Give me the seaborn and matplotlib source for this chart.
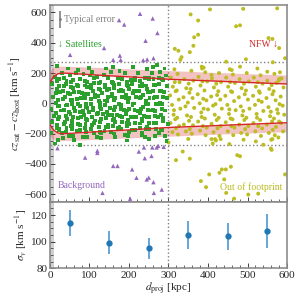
import matplotlib
matplotlib.use('Agg')
import matplotlib.pyplot as plt
from matplotlib.ticker import MultipleLocator
import numpy as np
import pandas as pd
import seaborn as sns

# satellites (green squares), d_proj < 300 kpc
sat_x = [13, 5, 17, 8, 16, 3, 11, 6, 18, 4,
         31, 23, 35, 26, 34, 21, 29, 24, 36, 22, 30,
         50, 42, 54, 45, 53, 40, 48, 43, 55, 41, 49,
         66, 58, 70, 61, 69, 56, 64, 59, 71, 57,
         85, 77, 89, 80, 88, 75, 83, 78, 90, 76, 84,
         101, 93, 105, 96, 104, 91, 99, 94, 106, 92,
         120, 112, 124, 115, 123, 110, 118, 113, 125, 111, 119,
         136, 128, 140, 131, 139, 126, 134, 129, 141, 127,
         155, 147, 159, 150, 158, 145, 153, 148, 160, 146, 154,
         171, 163, 175, 166, 174, 161, 169, 164, 176, 162,
         190, 182, 194, 185, 193, 180, 188, 183, 195, 181, 189,
         206, 198, 210, 201, 209, 196, 204, 199, 211, 197,
         224, 216, 228, 219, 227, 214, 222, 217, 229, 215,
         241, 233, 245, 236, 244, 231, 239, 234, 246, 232, 240,
         259, 251, 263, 254, 262, 249, 257, 252, 264, 250,
         275, 267, 279, 270, 278, 265, 273, 268, 280, 266,
         293, 285, 297, 288, 296, 283, 291, 286, 298, 284, 292,
         17, 22, 15, 20, 24, 16, 21, 18, 23,
         36, 41, 34, 39, 43, 35, 40, 37, 42, 33,
         53, 58, 51, 56, 60, 52, 57, 54, 59,
         71, 76, 69, 74, 78, 70, 75, 72, 77, 68,
         88, 93, 86, 91, 95, 87, 92, 89, 94,
         106, 111, 104, 109, 113, 105, 110, 107, 112, 103,
         123, 128, 121, 126, 130, 122, 127, 124, 129,
         141, 146, 139, 144, 148, 140, 145, 142, 147, 138,
         158, 163, 156, 161, 165, 157, 162, 159, 164,
         176, 181, 174, 179, 183, 175, 180, 177, 182, 173,
         194, 199, 192, 197, 201, 193, 198, 195, 200,
         210, 215, 208, 213, 217, 209, 214, 211, 216, 207,
         228, 233, 226, 231, 235, 227, 232, 229, 234,
         245, 250, 243, 248, 252, 244, 249, 246, 251, 242,
         262, 267, 260, 265, 269, 261, 266, 263, 268,
         279, 284, 277, 282, 286, 278, 283, 280, 285, 276,
         17, 45, 100, 160, 260, 270, 290, 20, 60, 130, 195, 250, 295, 13, 76]
sat_y = [172, 128, 96, 41, 5, -38, -84, -121, -163, -195,
         200, 159, 115, 74, 30, -15, -47, -90, -136, -170, -198,
         185, 150, 108, 70, 23, -14, -59, -103, -141, -186, -215,
         200, 157, 117, 75, 30, -4, -53, -92, -139, -172,
         195, 159, 118, 70, 34, -15, -51, -92, -134, -175, -220,
         184, 141, 100, 59, 28, -23, -60, -109, -142, -188,
         175, 136, 95, 56, 13, -29, -71, -113, -155, -195, -223,
         189, 144, 107, 68, 19, -21, -73, -104, -157, -189,
         205, 172, 135, 97, 51, 16, -29, -75, -111, -158, -189,
         168, 124, 83, 37, -2, -46, -78, -126, -158, -199,
         198, 161, 118, 80, 36, -12, -46, -89, -131, -172, -206,
         156, 113, 71, 36, -10, -47, -91, -137, -176, -217,
         198, 157, 116, 79, 35, -1, -48, -91, -133, -175,
         166, 130, 93, 55, 13, -40, -84, -116, -156, -194, -224,
         200, 159, 120, 77, 37, -4, -47, -91, -133, -167,
         168, 121, 84, 39, -2, -49, -93, -132, -173, -213,
         184, 152, 113, 74, 35, -6, -47, -94, -136, -175, -213,
         150, 112, 70, 25, -15, -62, -103, -140, -178,
         168, 125, 84, 44, -8, -45, -82, -126, -165, -230,
         140, 100, 60, 22, -32, -70, -115, -150, -218,
         222, 160, 120, 78, 33, -2, -60, -95, -140, -180,
         145, 105, 62, -2, -28, -75, -105, -160, -225,
         210, 165, 122, 82, 45, -5, -45, -90, -130, -170,
         135, 90, 48, 5, -40, -65, -120, -155, -195,
         230, 170, 120, 85, 40, -12, -55, -98, -140, -185,
         140, 100, 62, 20, -25, -75, -105, -150, -222,
         215, 168, 130, 88, 45, -5, -40, -85, -125, -165,
         140, 95, 55, 12, -40, -70, -110, -150, -190,
         240, 165, 125, 80, 40, -5, -45, -90, -130, -175,
         150, 115, 80, 40, -25, -65, -100, -165, -210,
         225, 165, 118, 78, 38, -5, -45, -90, -130, -170,
         160, 120, 82, 40, -5, -45, -85, -130, -170,
         210, 160, 125, 85, 45, 0, -35, -75, -115, -195,
         247, 230, 235, 240, 240, 255, 230, -240, -240, -230, -245, -235, -250, -265, -276]

# out of footprint (olive dots), d_proj > 300 kpc
oof_x = [306, 311, 304, 309, 313, 305, 310,
         323, 328, 321, 326, 330, 322, 327, 324,
         340, 345, 338, 343, 347, 339, 344,
         358, 363, 356, 361, 365, 357, 362, 359,
         376, 381, 374, 379, 383, 375, 380,
         393, 398, 391, 396, 400, 392, 397, 394,
         410, 415, 408, 413, 417, 409, 414,
         428, 433, 426, 431, 435, 427, 432, 429,
         446, 451, 444, 449, 453, 445, 450,
         463, 468, 461, 466, 470, 462, 467, 464,
         480, 485, 478, 483, 487, 479, 484,
         498, 503, 496, 501, 505, 497, 502, 499,
         516, 521, 514, 519, 523, 515, 520,
         533, 538, 531, 536, 540, 532, 537, 534,
         550, 555, 548, 553, 557, 549, 554,
         568, 573, 566, 571, 575, 567, 572, 569,
         586, 591, 584, 589, 593, 585, 590,
         316, 318, 314, 317, 319, 315,
         351, 353, 349, 352, 354, 350,
         386, 388, 384, 387, 389, 385,
         421, 423, 419, 422, 424, 420,
         456, 458, 454, 457, 459, 455,
         491, 493, 489, 492, 494, 490,
         526, 528, 524, 527, 529, 525,
         561, 563, 559, 562, 564, 560,
         579, 581, 577, 580, 582, 578,
         356, 405, 489, 575, 375, 471, 481, 365, 375, 363, 316, 325, 354,
         553, 563, 580, 333, 330, 384, 389, 446, 496, 564, 481, 460, 550,
         580, 595, 409,
         300, 319, 336, 354, 409, 418, 432, 412, 454, 474, 481, 403, 429,
         435, 445, 458, 382, 395, 441, 446, 466, 502, 527, 540, 559, 561,
         563, 521, 595]
oof_y = [170, 110, 52, -10, -75, -130, -190,
         195, 140, 85, 25, -35, -95, -150, -205,
         160, 100, 40, -20, -80, -140, -185,
         215, 150, 95, 35, -30, -90, -145, -200,
         175, 118, 60, 0, -60, -120, -180,
         205, 145, 85, 20, -40, -100, -160, -210,
         165, 105, 45, -15, -75, -135, -190,
         200, 140, 80, 25, -35, -95, -150, -215,
         170, 110, 50, -10, -70, -125, -185,
         190, 135, 75, 15, -45, -105, -160, -210,
         160, 100, 40, -20, -80, -140, -195,
         200, 145, 85, 25, -35, -95, -150, -205,
         170, 110, 50, -10, -70, -130, -185,
         185, 130, 70, 10, -50, -110, -165, -215,
         150, 95, 35, -25, -85, -140, -195,
         195, 135, 80, 20, -40, -100, -155, -210,
         165, 105, 45, -15, -75, -130, -185,
         140, 80, -45, -105, -165, 225,
         130, 70, 5, -115, -170, -235,
         145, 30, -90, -150, -35, 230,
         130, 55, -5, -110, -165, -245,
         140, 80, -40, -100, -150, 225,
         130, 60, -50, -110, -170, -240,
         140, 20, -95, -150, 80, 230,
         120, 60, -55, -120, -175, -240,
         150, -5, -65, -120, 205, -225,
         587, 620, 624, 627, 547, 509, 515, 436, 453, 380, 360, 347, 338,
         431, 425, 365, 305, 287, 242, 236, 275, 291, 271, 242, 220, 209,
         160, 298, 187,
         -258, -375, -318, -365, -236, -236, -236, -265, -269, -342, -349, -469, -458,
         -436, -436, -418, -513, -553, -502, -591, -629, -602, -596, -273, -298, -307,
         -236, -251, -469]

# background (purple triangles)
bkg_x = [175, 188, 228, 242, 137, 51, 160, 179, 236, 246, 260, 272, 262, 177,
         19, 89, 120, 120, 160, 171, 208, 219, 245, 250, 225, 240, 133, 203,
         257, 274, 288, 262, 283, 263, 238, 259, 270]
bkg_y = [549, 520, 591, 413, 365, 320, 287, 287, 285, 290, 560, 464, 298, 315,
         -296, -358, -313, -327, -413, -413, -436, -491, -502, -490, -318, -362, -591, -629,
         -347, -280, -287, -520, -569, -591, -291, -291, -291]

# NFW escape-velocity curve and its band
nfw_x = [0, 5, 10, 20, 30, 50, 100, 150, 200, 250, 300, 400, 500, 600]
nfw_v = [140, 160, 178, 195, 200, 198, 190, 182, 175, 167, 159, 149, 138, 128]
band_hi = [205, 232, 242, 246, 246, 244, 240, 234, 228, 222, 217, 206, 196, 187]

# velocity dispersion profile
bin_x = [50, 150, 250, 350, 450, 550]
sigma_v = [114, 99, 95, 105, 104, 108]
sigma_err = [9.7, 8.7, 8.0, 10.5, 10.1, 12.8]

sns.set_style('ticks')
plt.rcParams['font.family'] = ['Liberation Serif', 'DejaVu Serif']
plt.rcParams['mathtext.fontset'] = 'stix'
plt.rcParams['font.size'] = 8

green = '#2ca02c'
olive = '#bcbd22'
purple = '#9467bd'
red = '#d62728'
blue = '#1f77b4'

fig = plt.figure(figsize=(2.99, 3.04), dpi=100)
ax1 = fig.add_axes([0.167, 0.336, 0.793, 0.648])
ax2 = fig.add_axes([0.167, 0.118, 0.793, 0.218], sharex=ax1)

df_sat = pd.DataFrame({'x': sat_x, 'y': sat_y})
df_oof = pd.DataFrame({'x': oof_x, 'y': oof_y})
df_bkg = pd.DataFrame({'x': bkg_x, 'y': bkg_y})

for ax in (ax1, ax2):
    ax.axvspan(0, 10, color='#d0d0d0', lw=0, zorder=0)
    ax.axvline(300, color='grey', ls=':', lw=1, zorder=1)

nfw_x_arr = np.array(nfw_x)
ax1.fill_between(nfw_x_arr, nfw_v, band_hi, color=red, alpha=0.28, lw=0, zorder=1)
ax1.fill_between(nfw_x_arr, -np.array(nfw_v), -np.array(band_hi), color=red,
                 alpha=0.28, lw=0, zorder=1)
for yy in (275, -275):
    ax1.axhline(yy, color='grey', ls=':', lw=1, zorder=1)

sns.scatterplot(data=df_bkg, x='x', y='y', ax=ax1, marker='^', s=10,
                color=purple, edgecolor='none', zorder=2)
sns.scatterplot(data=df_oof, x='x', y='y', ax=ax1, marker='o', s=8,
                color=olive, edgecolor='none', zorder=2)
sns.scatterplot(data=df_sat, x='x', y='y', ax=ax1, marker='s', s=8,
                color=green, edgecolor='none', zorder=3)

sns.lineplot(x=nfw_x, y=nfw_v, ax=ax1, color=red, lw=1.0, zorder=4)
sns.lineplot(x=nfw_x, y=[-v for v in nfw_v], ax=ax1, color=red, lw=1.0, zorder=4)

ax1.errorbar([25], [555], yerr=[55], color='grey', fmt='.', ms=2, lw=1.2)
ax1.text(36, 555, 'Typical error', color='grey', fontsize=7, va='center')
ax1.text(20, 390, '\u2193 Satellites', color=green, fontsize=7, va='center')
ax1.text(578, 390, 'NFW \u2193', color=red, fontsize=7, va='center', ha='right')
ax1.text(20, -545, 'Background', color=purple, fontsize=7, va='center')
ax1.text(588, -550, 'Out of footprint', color=olive, fontsize=7, va='center',
         ha='right')

ax1.set_xlim(0, 600)
ax1.set_ylim(-650, 650)
ax1.set_xlabel('')
ax1.set_ylabel(r'$cz_{\rm sat} - cz_{\rm host}$ [km s$^{-1}$]', fontsize=8,
               labelpad=1)
ax1.yaxis.set_major_locator(MultipleLocator(200))
ax1.yaxis.set_minor_locator(MultipleLocator(50))
ax1.tick_params(labelbottom=False)

ax2.errorbar(bin_x, sigma_v, yerr=sigma_err, fmt='o', color=blue, ms=3.5,
             elinewidth=1.3, ecolor='#5a9fd4', capsize=0)
ax2.set_ylim(80, 130)
ax2.yaxis.set_major_locator(MultipleLocator(20))
ax2.yaxis.set_minor_locator(MultipleLocator(5))
ax2.set_xlabel(r'$d_{\rm proj}$ [kpc]', fontsize=8, labelpad=1)
ax2.set_ylabel(r'$\sigma_v$ [km s$^{-1}$]', fontsize=8, labelpad=1)
ax2.xaxis.set_major_locator(MultipleLocator(100))
ax2.xaxis.set_minor_locator(MultipleLocator(20))

for ax in (ax1, ax2):
    ax.tick_params(which='both', direction='in', labelsize=8, pad=2)
    ax.tick_params(which='major', length=3.5, width=0.6)
    ax.tick_params(which='minor', length=2, width=0.5)
    for sp in ax.spines.values():
        sp.set_color('#8c8c8c')
        sp.set_linewidth(1.2)
        sp.set_visible(True)

fig.savefig('out.png', dpi=100)
